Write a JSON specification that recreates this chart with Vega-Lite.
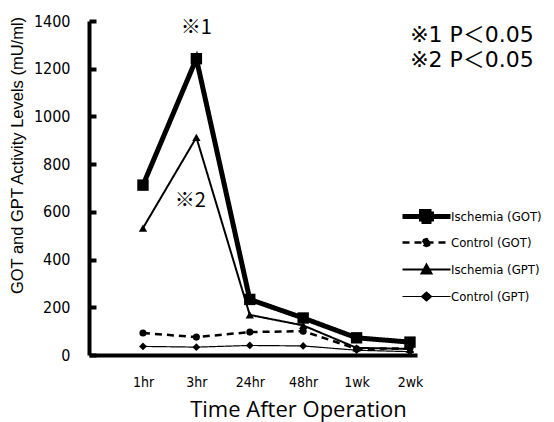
{
  "$schema": "https://vega.github.io/schema/vega-lite/v6.json",
  "width": 328,
  "height": 334,
  "autosize": {"type": "none"},
  "padding": {"left": 89, "top": 21, "right": 137, "bottom": 67},
  "background": "white",
  "config": {"view": {"stroke": null}},
  "datasets": {
    "series": [
      {"t": "1hr", "v": 712, "series": "Ischemia (GOT)"},
      {"t": "3hr", "v": 1242, "series": "Ischemia (GOT)"},
      {"t": "24hr", "v": 233, "series": "Ischemia (GOT)"},
      {"t": "48hr", "v": 155, "series": "Ischemia (GOT)"},
      {"t": "1wk", "v": 72, "series": "Ischemia (GOT)"},
      {"t": "2wk", "v": 54, "series": "Ischemia (GOT)"},
      {"t": "1hr", "v": 92, "series": "Control (GOT)"},
      {"t": "3hr", "v": 75, "series": "Control (GOT)"},
      {"t": "24hr", "v": 96, "series": "Control (GOT)"},
      {"t": "48hr", "v": 100, "series": "Control (GOT)"},
      {"t": "1wk", "v": 26, "series": "Control (GOT)"},
      {"t": "2wk", "v": 28, "series": "Control (GOT)"},
      {"t": "1hr", "v": 532, "series": "Ischemia (GPT)"},
      {"t": "3hr", "v": 912, "series": "Ischemia (GPT)"},
      {"t": "24hr", "v": 168, "series": "Ischemia (GPT)"},
      {"t": "48hr", "v": 124, "series": "Ischemia (GPT)"},
      {"t": "1wk", "v": 30, "series": "Ischemia (GPT)"},
      {"t": "2wk", "v": 25, "series": "Ischemia (GPT)"},
      {"t": "1hr", "v": 36, "series": "Control (GPT)"},
      {"t": "3hr", "v": 33, "series": "Control (GPT)"},
      {"t": "24hr", "v": 40, "series": "Control (GPT)"},
      {"t": "48hr", "v": 38, "series": "Control (GPT)"},
      {"t": "1wk", "v": 20, "series": "Control (GPT)"},
      {"t": "2wk", "v": 14, "series": "Control (GPT)"}
    ],
    "mark1": [{"t": "3hr", "v": 1370, "label": "※1"}],
    "mark2": [{"t": "3hr", "v": 645, "label": "※2"}],
    "notes": [
      {"t": "2wk", "v": 1341, "label": "※1 P＜0.05"},
      {"t": "2wk", "v": 1236, "label": "※2 P＜0.05"}
    ]
  },
  "encoding": {
    "x": {
      "field": "t",
      "type": "ordinal",
      "scale": {"type": "point", "domain": ["1hr", "3hr", "24hr", "48hr", "1wk", "2wk"], "padding": 0.571, "align": 0.885},
      "axis": {
        "title": "Time After Operation",
        "titleFont": "Open Sans, Noto Sans CJK JP",
        "titleFontSize": 22,
        "titleFontWeight": "normal",
        "titleColor": "black",
        "titleX": 209,
        "titleY": 61,
        "titleAlign": "center",
        "titleBaseline": "alphabetic",
        "labelFont": "Liberation Sans Narrow, DejaVu Sans Condensed, Roboto Condensed, Liberation Sans",
        "labelFontSize": 14,
        "labelColor": "black",
        "labelAngle": 0,
        "labelPadding": 20,
        "ticks": false,
        "grid": false,
        "domainColor": "black",
        "domainWidth": 4
      }
    },
    "y": {
      "field": "v",
      "type": "quantitative",
      "scale": {"domain": [0, 1400], "nice": false},
      "axis": {
        "title": "GOT and GPT Activity Levels (mU/ml)",
        "titleFont": "Liberation Sans",
        "titleFontSize": 16.5,
        "titleFontWeight": "normal",
        "titleColor": "black",
        "titleAngle": -90,
        "titleX": -64,
        "titleY": 134,
        "titleAlign": "center",
        "titleBaseline": "bottom",
        "values": [0, 200, 400, 600, 800, 1000, 1200, 1400],
        "format": "d",
        "labelFont": "Liberation Sans Narrow, DejaVu Sans Condensed, Roboto Condensed, Liberation Sans",
        "labelFontSize": 16,
        "labelColor": "black",
        "labelPadding": 26,
        "tickSize": -7,
        "tickWidth": 4,
        "tickColor": "black",
        "grid": false,
        "domainColor": "black",
        "domainWidth": 4
      }
    }
  },
  "layer": [
    {
      "data": {"name": "series"},
      "mark": {"type": "line", "color": "black"},
      "encoding": {
        "detail": {"field": "series"},
        "strokeDash": {
          "field": "series", "type": "nominal",
          "scale": {"domain": ["Ischemia (GOT)", "Control (GOT)", "Ischemia (GPT)", "Control (GPT)"], "range": [[1, 0], [7, 5], [1, 0], [1, 0]]},
          "legend": null
        },
        "strokeWidth": {
          "field": "series", "type": "nominal",
          "scale": {"type": "ordinal", "domain": ["Ischemia (GOT)", "Control (GOT)", "Ischemia (GPT)", "Control (GPT)"], "range": [5, 2.5, 2, 1.2]},
          "legend": null
        }
      }
    },
    {
      "data": {"name": "series"},
      "mark": {"type": "point", "filled": true, "color": "black", "opacity": 1},
      "encoding": {
        "shape": {
          "field": "series", "type": "nominal",
          "scale": {"domain": ["Ischemia (GOT)", "Control (GOT)", "Ischemia (GPT)", "Control (GPT)"], "range": ["square", "circle", "triangle-up", "diamond"]},
          "legend": null
        },
        "size": {
          "field": "series", "type": "nominal",
          "scale": {"type": "ordinal", "domain": ["Ischemia (GOT)", "Control (GOT)", "Ischemia (GPT)", "Control (GPT)"], "range": [130, 50, 70, 60]},
          "legend": null
        }
      }
    },
    {
      "data": {"name": "series"},
      "mark": {"type": "point", "filled": true, "color": "black", "stroke": "black", "opacity": 0, "size": 1},
      "encoding": {
        "shape": {
          "field": "series", "type": "nominal",
          "scale": {"domain": ["Ischemia (GOT)", "Control (GOT)", "Ischemia (GPT)", "Control (GPT)"], "range": [
            "M-4.8,0L4.8,0M-1,-1L1,-1L1,1L-1,1Z",
            "M-4.8,0L4.8,0M-0.7,0L-0.5,-0.5L0,-0.7L0.5,-0.5L0.7,0L0.5,0.5L0,0.7L-0.5,0.5Z",
            "M-4.8,0L4.8,0M0,-1L1,0.8L-1,0.8Z",
            "M-4.8,0L4.8,0M0,-0.9L1,0L0,0.9L-1,0Z"
          ]},
          "legend": {
            "orient": "none", "legendX": 330, "legendY": 188, "title": null,
            "symbolSize": 100, "labelOffset": 17, "rowPadding": 1, "gridAlign": "all",
            "labelFont": "Liberation Sans Narrow, DejaVu Sans Condensed, Roboto Condensed, Liberation Sans", "labelFontSize": 13, "labelColor": "black",
            "encode": {"symbols": {"update": {"fill": {"value": "black"}, "stroke": {"value": "black"}, "opacity": {"value": 1}}}}
          }
        },
        "strokeDash": {
          "field": "series", "type": "nominal",
          "scale": {"domain": ["Ischemia (GOT)", "Control (GOT)", "Ischemia (GPT)", "Control (GPT)"], "range": [[1, 0], [7, 5], [1, 0], [1, 0]]},
          "legend": {
            "orient": "none", "legendX": 330, "legendY": 188, "title": null,
            "symbolSize": 100, "labelOffset": 17, "rowPadding": 1, "gridAlign": "all",
            "labelFont": "Liberation Sans Narrow, DejaVu Sans Condensed, Roboto Condensed, Liberation Sans", "labelFontSize": 13, "labelColor": "black",
            "encode": {"symbols": {"update": {"fill": {"value": "black"}, "stroke": {"value": "black"}, "opacity": {"value": 1}}}}
          }
        },
        "strokeWidth": {
          "field": "series", "type": "nominal",
          "scale": {"type": "ordinal", "domain": ["Ischemia (GOT)", "Control (GOT)", "Ischemia (GPT)", "Control (GPT)"], "range": [5, 2.5, 2, 1.2]},
          "legend": {
            "orient": "none", "legendX": 330, "legendY": 188, "title": null,
            "symbolSize": 100, "labelOffset": 17, "rowPadding": 1, "gridAlign": "all",
            "labelFont": "Liberation Sans Narrow, DejaVu Sans Condensed, Roboto Condensed, Liberation Sans", "labelFontSize": 13, "labelColor": "black",
            "encode": {"symbols": {"update": {"fill": {"value": "black"}, "stroke": {"value": "black"}, "opacity": {"value": 1}}}}
          }
        }
      }
    },
    {
      "data": {"name": "mark1"},
      "mark": {"type": "text", "font": "Noto Sans CJK JP", "fontSize": 20, "align": "center", "baseline": "middle", "color": "black"},
      "encoding": {"text": {"field": "label"}}
    },
    {
      "data": {"name": "mark2"},
      "mark": {"type": "text", "font": "Noto Sans CJK JP", "fontSize": 20, "align": "center", "baseline": "middle", "color": "black", "dx": -6},
      "encoding": {"text": {"field": "label"}}
    },
    {
      "data": {"name": "notes"},
      "mark": {"type": "text", "font": "DejaVu Sans, Noto Sans CJK JP", "fontSize": 22, "align": "center", "baseline": "middle", "color": "black", "dx": 62},
      "encoding": {"text": {"field": "label"}}
    }
  ],
  "resolve": {"scale": {"shape": "independent", "size": "independent", "strokeDash": "independent", "strokeWidth": "independent"}}
}
